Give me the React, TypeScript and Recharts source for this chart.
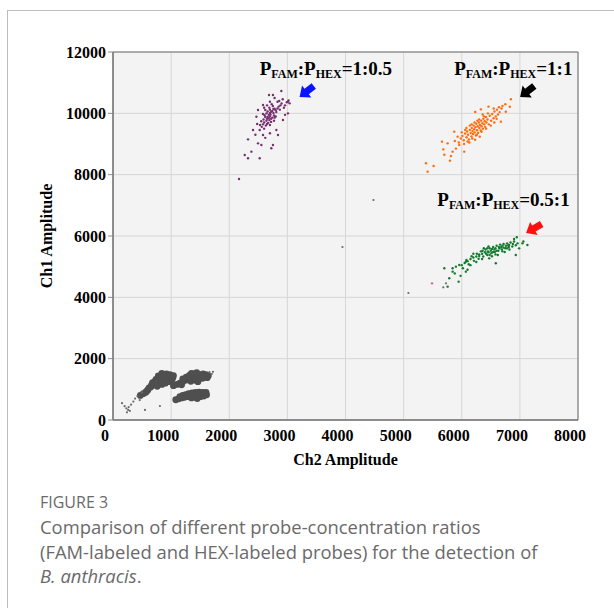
import { ScatterChart, Scatter, XAxis, YAxis, CartesianGrid, ReferenceArea, ReferenceDot } from 'recharts';

// droplet amplitudes, [Ch2, Ch1]
const purplePts: [number, number][] = [
  [2600, 9700], [2650, 9820], [2700, 9900], [2720, 10050], [2680, 9950], [2640, 9760], [2760, 10010], [2700, 10120], [2620, 9880], [2580, 9640],
  [2740, 9860], [2690, 9780], [2660, 10060], [2780, 10150], [2710, 9960], [2630, 9600], [2590, 9800], [2750, 10240], [2800, 10100], [2670, 9690],
  [2720, 9820], [2610, 9940], [2770, 9930], [2690, 10180], [2640, 10000], [2560, 9560], [2730, 10300], [2850, 10220], [2810, 10040], [2700, 9620],
  [2660, 9880], [2740, 10080], [2600, 9500], [2780, 9860], [2620, 10110], [2700, 10010], [2760, 10140], [2680, 9850], [2650, 9650], [2830, 10160],
  [2880, 10260], [2900, 10320], [2940, 10180], [2860, 10400], [2960, 10260], [2990, 10360], [3020, 10420], [2920, 10460], [2830, 10380], [2870, 10120],
  [2550, 9740], [2580, 9980], [2530, 9620], [2600, 10180], [2700, 10380], [2780, 10500], [2650, 10260], [2720, 9720], [2770, 9760], [2800, 9900],
  [2896, 10728], [2752, 10598], [2684, 10598], [3010, 10380], [3039, 10326], [2581, 10272], [2495, 10109], [2467, 9891], [3010, 10000], [2924, 9783],
  [2810, 9457], [2524, 9457], [2409, 9457], [2581, 9293], [2839, 9293], [2495, 9022], [2323, 9152], [2752, 8967], [2724, 8859], [2552, 8967],
  [2266, 8641], [2323, 8533], [2524, 8533], [2381, 8750], [2168, 7859], [2450, 9300], [2620, 9200], [2700, 9350], [2480, 9650], [2960, 9950],
];

const orangePts: [number, number][] = [
  [5950, 9050], [5985, 9180], [6012, 9260], [6034, 9120], [6058, 9340], [6083, 9220], [6092, 9410], [6108, 9300], [6124, 9150], [6138, 9460],
  [6153, 9360], [6166, 9250], [6172, 9520], [6185, 9420], [6193, 9330], [6204, 9600], [6215, 9480], [6222, 9380], [6236, 9550], [6244, 9280],
  [6251, 9660], [6263, 9450], [6275, 9580], [6282, 9360], [6296, 9700], [6303, 9520], [6314, 9620], [6327, 9440], [6335, 9760], [6342, 9580],
  [6356, 9680], [6364, 9500], [6373, 9820], [6386, 9640], [6395, 9740], [6404, 9560], [6418, 9880], [6425, 9700], [6443, 9800], [6466, 9640],
  [6482, 9920], [6505, 9760], [6524, 9980], [6547, 9840], [6563, 10060], [6585, 9900], [6606, 10120], [6624, 9960], [6652, 10040], [6684, 10160],
  [6060, 9460], [6100, 9080], [6140, 9600], [6180, 9180], [6220, 9700], [6260, 9300], [6300, 9800], [6340, 9400], [6380, 9900], [6420, 9500],
  [6000, 9380], [6040, 9000], [6080, 9520], [6130, 9050], [6170, 9640], [6230, 9140], [6270, 9760], [6310, 9240], [6360, 9960], [6450, 10000],
  [6500, 9600], [6550, 10160], [6600, 9820], [6700, 10240], [6640, 10200],
  [6845, 10457], [6827, 10217], [6758, 10054], [6673, 9728], [5385, 8370], [5413, 8098], [5516, 8283], [5660, 9076], [5682, 8826], [5797, 8457],
  [5814, 8609], [5843, 8750], [5757, 9022], [5871, 9402], [5929, 9239], [6043, 8750], [5957, 8967], [6232, 10043], [6330, 10130], [5900, 8850],
  [5700, 8650], [5880, 9100], [6750, 10300], [6460, 10220], [6560, 9700],
];

const greenPts: [number, number][] = [
  [6000, 5050], [6050, 5120], [6100, 5180], [6150, 5250], [6200, 5300], [6250, 5330], [6300, 5400], [6350, 5420], [6400, 5470], [6450, 5500],
  [6080, 5220], [6120, 5080], [6170, 5340], [6210, 5190], [6260, 5420], [6290, 5260], [6330, 5500], [6370, 5330], [6410, 5560], [6440, 5380],
  [6480, 5600], [6510, 5440], [6540, 5640], [6570, 5480], [6600, 5680], [6630, 5520], [6660, 5720], [6690, 5560], [6720, 5740], [6750, 5600],
  [6780, 5760], [6810, 5640], [6840, 5790], [6870, 5660], [6900, 5820], [6930, 5700], [6960, 5760], [6380, 5600], [6460, 5660], [6520, 5340],
  [6560, 5560], [6620, 5380], [6680, 5640], [6740, 5480], [6800, 5700], [6350, 5250], [6250, 5150], [6150, 5050], [6420, 5420], [6500, 5520],
  [6580, 5600], [6650, 5600], [6700, 5680], [6760, 5680], [6820, 5560], [6880, 5740], [6440, 5600], [6480, 5380], [6540, 5480], [6600, 5520],
  [6300, 5350], [6200, 5420], [6360, 5520], [6460, 5470], [6520, 5580], [6580, 5400], [6640, 5640], [6700, 5500], [6720, 5620], [6780, 5600],
  [6947, 5957], [7130, 5707], [7044, 5761], [6987, 5598], [6815, 5707], [6586, 5109], [6472, 5272], [6930, 5380], [5957, 5054], [5843, 4946],
  [5700, 4946], [5785, 4620], [5757, 4348], [5946, 4511], [5843, 4837], [6071, 4837], [6071, 5163], [5900, 5000], [6020, 4950], [5880, 4780],
  [5980, 4700], [6100, 4900], [7060, 5820], [6900, 5900],
];

// double-negative droplets: three dense blobs near the origin
const grayBlobA: [number, number][] = [
  [760, 1200], [820, 1250], [880, 1300], [940, 1350], [1000, 1400], [800, 1380], [860, 1450], [920, 1500], [980, 1480], [1030, 1380],
  [740, 1320], [700, 1150], [650, 1080], [600, 980], [560, 900], [620, 1050], [680, 1220], [900, 1200], [960, 1250], [1010, 1300],
  [840, 1520], [780, 1440], [720, 1260], [860, 1350], [950, 1420], [660, 1130], [580, 940], [520, 860], [470, 800], [760, 1100],
  [840, 1160], [1040, 1450],
];
const grayBlobB: [number, number][] = [
  [1100, 1160], [1150, 1200], [1200, 1250], [1250, 1300], [1300, 1340], [1350, 1380], [1400, 1420], [1450, 1460], [1500, 1480], [1550, 1500],
  [1600, 1480], [1640, 1440], [1200, 1340], [1260, 1400], [1320, 1460], [1380, 1500], [1440, 1540], [1500, 1400], [1560, 1420], [1620, 1380],
  [1340, 1260], [1420, 1300], [1480, 1340], [1540, 1360], [1300, 1420], [1040, 1120], [1180, 1150], [1350, 1520], [1460, 1250],
];
const grayBlobC: [number, number][] = [
  [1080, 660], [1130, 690], [1180, 720], [1230, 740], [1280, 760], [1330, 780], [1380, 800], [1430, 820], [1480, 840], [1530, 850],
  [1580, 860], [1610, 820], [1250, 830], [1300, 860], [1360, 880], [1420, 900], [1480, 910], [1540, 900], [1350, 720], [1420, 740],
  [1500, 760], [1560, 780], [1200, 800], [1150, 760], [1600, 900], [1450, 700],
];
const grayScatter: [number, number][] = [
  [155, 550], [200, 450], [230, 380], [260, 330], [290, 300], [270, 420], [310, 500], [240, 250], [380, 700], [420, 780],
  [460, 650], [550, 330], [807, 457], [500, 900], [350, 600], [1660, 1560], [1720, 1570], [1700, 1500],
  [4481, 7174], [3948, 5641], [5082, 4141], [5729, 4456], [5682, 4326],
];
const pinkPts: [number, number][] = [[5489, 4456]];

const xTicks = [0, 1000, 2000, 3000, 4000, 5000, 6000, 7000, 8000];
const yTicks = [0, 2000, 4000, 6000, 8000, 10000, 12000];

// annotation anchors: [Ch2, Ch1, text]
const ratioLabels: [number, number, string][] = [
  [2524, 11250, '1:0.5'],
  [5871, 11250, '1:1'],
  [5579, 6978, '0.5:1'],
];
const arrowTips: [number, number, string, number][] = [
  [3210, 10532, '#0a14ff', -38],
  [7004, 10532, '#000000', -38],
  [7107, 6098, '#ff1010', -30],
];

const serif = "'Liberation Serif', 'Times New Roman', serif";
const toXY = (pts: [number, number][]) => pts.map(([x, y]) => ({ x, y }));

const dot = (color: string, r: number) => (p: any) =>
  p.cx == null ? <g /> : <circle cx={p.cx} cy={p.cy} r={r} fill={color} />;

const XTick = ({ x, y, payload }: any) => (
  <text x={x - 8} y={y} dy="0.71em" textAnchor="middle" fontFamily={serif} fontWeight="bold" fontSize={16} fill="#000">
    {payload.value}
  </text>
);

const YTick = ({ x, y, payload }: any) => (
  <text x={x} y={y} dy="0.355em" textAnchor="end" fontFamily={serif} fontWeight="bold" fontSize={16} fill="#000">
    {payload.value}
  </text>
);

const RatioLabel = ({ cx, cy, ratio }: any) => (
  <text x={cx} y={cy} fontFamily={serif} fontWeight="bold" fontSize={19} fill="#000">
    P<tspan fontSize={12} dy={3}>FAM</tspan>
    <tspan dy={-3}>:P</tspan>
    <tspan fontSize={12} dy={3}>HEX</tspan>
    <tspan dy={-3}>={ratio}</tspan>
  </text>
);

const Arrow = ({ cx, cy, color, angle }: any) => (
  <path
    d="M0,0 L9,-7.5 L9,-3.5 L18,-3.5 L18,3.5 L9,3.5 L9,7.5 Z"
    fill={color}
    transform={`translate(${cx},${cy}) rotate(${angle})`}
  />
);

export default function App() {
  return (
    <div style={{ position: 'absolute', left: 0, top: 0, width: 614, height: 608, overflow: 'hidden', background: '#fff' }}>
      <div
        style={{
          position: 'absolute', left: 7, top: 10, width: 607, height: 598,
          borderLeft: '1px solid #bdbdbd', borderTop: '1px solid #bdbdbd', boxSizing: 'border-box',
        }}
      />
      <div style={{ position: 'absolute', left: 0, top: 0 }}>
        <ScatterChart width={614} height={480} margin={{ top: 52, right: 36, left: 0, bottom: 0 }}>
          <CartesianGrid fill="#f3f3f3" stroke="#d6d6d6" horizontalValues={yTicks} verticalValues={xTicks} />
          <XAxis
            type="number" dataKey="x" domain={[0, 8000]} ticks={xTicks} height={60}
            tickLine={false} tickMargin={4} axisLine={{ stroke: '#6e6e6e' }} tick={<XTick />}
            allowDataOverflow
            label={{
              content: (p: any) => {
                const vb = p.viewBox ?? { x: 113, y: 420, width: 465, height: 60 };
                return (
                  <text x={vb.x + vb.width / 2} y={vb.y + 45} textAnchor="middle" fontFamily={serif} fontWeight="bold" fontSize={16} fill="#000">
                    Ch2 Amplitude
                  </text>
                );
              },
            }}
          />
          <YAxis
            type="number" dataKey="y" domain={[0, 12000]} ticks={yTicks} width={113}
            tickSize={5} tickLine={{ stroke: '#8a8a8a' }} axisLine={{ stroke: '#6e6e6e' }} tick={<YTick />}
            allowDataOverflow
            label={{
              content: (p: any) => {
                const vb = p.viewBox ?? { x: 0, y: 52, width: 113, height: 368 };
                return (
                  <text
                    transform={`translate(${vb.x + 52},${vb.y + vb.height / 2}) rotate(-90)`}
                    textAnchor="middle" fontFamily={serif} fontWeight="bold" fontSize={16} fill="#000"
                  >
                    Ch1 Amplitude
                  </text>
                );
              },
            }}
          />
          <ReferenceArea x1={0} x2={8000} y1={0} y2={12000} fill="none" stroke="#6e6e6e" strokeWidth={1} />
          <Scatter data={toXY(grayBlobA)} shape={dot('#4f4f4f', 3.4)} isAnimationActive={false} />
          <Scatter data={toXY(grayBlobB)} shape={dot('#4f4f4f', 3.4)} isAnimationActive={false} />
          <Scatter data={toXY(grayBlobC)} shape={dot('#4f4f4f', 3.4)} isAnimationActive={false} />
          <Scatter data={toXY(grayScatter)} shape={dot('#6a6a6a', 1.1)} isAnimationActive={false} />
          <Scatter data={toXY(pinkPts)} shape={dot('#e0608a', 1.2)} isAnimationActive={false} />
          <Scatter data={toXY(purplePts)} shape={dot('#76306f', 1.2)} isAnimationActive={false} />
          <Scatter data={toXY(orangePts)} shape={dot('#ff6a0a', 1.2)} isAnimationActive={false} />
          <Scatter data={toXY(greenPts)} shape={dot('#13792d', 1.2)} isAnimationActive={false} />
          {ratioLabels.map(([x, y, ratio]) => (
            <ReferenceDot key={ratio} x={x} y={y} r={0} shape={(p: any) => <RatioLabel cx={p.cx} cy={p.cy} ratio={ratio} />} />
          ))}
          {arrowTips.map(([x, y, color, angle]) => (
            <ReferenceDot key={color} x={x} y={y} r={0} shape={(p: any) => <Arrow cx={p.cx} cy={p.cy} color={color} angle={angle} />} />
          ))}
        </ScatterChart>
      </div>
      <div style={{ position: 'absolute', left: 40, top: 491, fontFamily: "'Open Sans', sans-serif", color: '#6a6a6a' }}>
        <div style={{ fontSize: 16, lineHeight: '22px' }}>FIGURE 3</div>
        <div style={{ fontSize: 18.4, lineHeight: '24.5px', marginTop: 2, whiteSpace: 'nowrap' }}>
          Comparison of different probe-concentration ratios
          <br />
          (FAM-labeled and HEX-labeled probes) for the detection of
          <br />
          <i>B. anthracis</i>.
        </div>
      </div>
    </div>
  );
}
